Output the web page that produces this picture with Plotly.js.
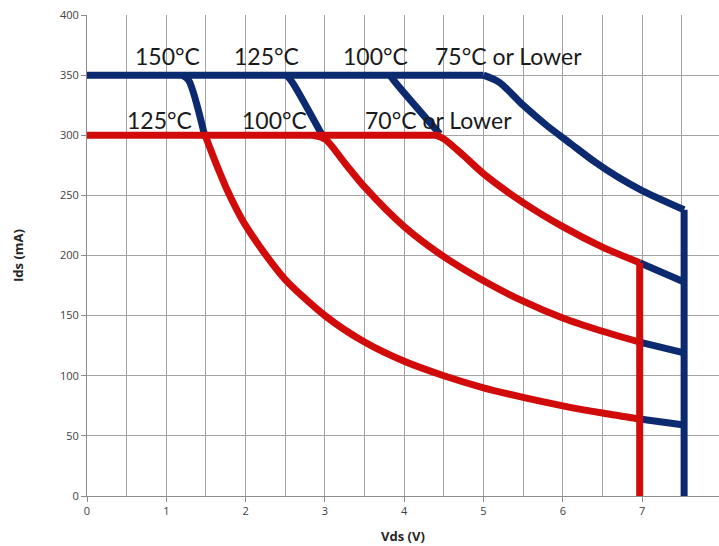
<!DOCTYPE html>
<html>
<head>
<meta charset="utf-8">
<script src="https://cdn.plot.ly/plotly-3.0.1.min.js"></script>
<style>html,body{margin:0;padding:0;background:#fff;}#chart{width:719px;height:546px;}</style>
</head>
<body>
<div id="chart"></div>
<script>
// Red limit at 300 mA (flat part) and derating curves
const redFlatV = [0, 4.46];
const redFlatI = [300, 300];
const red125V = [1.49, 1.6, 1.68, 1.75, 1.89, 2, 2.27, 2.5, 3, 3.5, 4, 4.5, 5, 5.5, 6, 6.5, 6.97];
const red125I = [300, 281, 268, 257, 238, 225, 199, 180, 150, 128, 112, 100, 90, 82, 75, 69, 64];
const red100V = [2.85, 3.0, 3.25, 3.5, 4, 4.5, 5, 5.5, 6, 6.5, 6.97];
const red100I = [300, 297, 277, 257, 224, 199, 179, 162, 148, 137, 128];
const red70V = [4.4, 4.5, 4.75, 5.0, 5.5, 6.0, 6.5, 6.97];
const red70I = [300, 297, 283, 268, 244, 224, 207, 194];
const redVertV = [6.97, 6.97];
const redVertI = [194, 0];
// Blue limit at 350 mA (flat part) and derating curves
const blueFlatV = [0, 5.0];
const blueFlatI = [350, 350];
const blue75V = [5.0, 5.2, 5.5, 5.8, 6.1, 6.4, 6.7, 7.0, 7.53];
const blue75I = [350, 344, 325, 308, 293, 278, 265, 254, 238];
const blueVertV = [7.53, 7.53];
const blueVertI = [238, 0];
const blue150V = [1.2, 1.28, 1.49];
const blue150I = [350, 346, 298];
const blue125V = [2.52, 2.6, 3.0];
const blue125I = [350, 343, 296];
const blue100V = [3.82, 3.9, 4.45];
const blue100I = [350, 343, 301];
const blueTailV = [6.97, 7.53];
const blueTail1I = [194, 178];
const blueTail2I = [128, 119];
const blueTail3I = [64, 59];
// Labels
const labelText = ["150°C", "125°C", "100°C", "75°C or Lower", "125°C", "100°C", "70°C or Lower"];
const labelV = [1.01, 2.26, 3.64, 5.31, 0.91, 2.36, 4.43];
const labelI = [366, 366, 366, 366, 313, 313, 313];
const xTicks = [0, 1, 2, 3, 4, 5, 6, 7];

const BLUE = '#0b2a6f';
const RED = '#d10a0a';
const W = 7;
function tr(x, y, c, smooth) {
  return {x: x, y: y, type: 'scatter', mode: 'lines',
    line: {color: c, width: W, shape: smooth ? 'spline' : 'linear', smoothing: 0.8},
    hoverinfo: 'skip', showlegend: false};
}
const data = [
  tr(blueFlatV, blueFlatI, BLUE),
  tr(blue75V, blue75I, BLUE, true),
  tr(blueVertV, blueVertI, BLUE),
  tr(blue150V, blue150I, BLUE, true),
  tr(blue125V, blue125I, BLUE, true),
  tr(blue100V, blue100I, BLUE, true),
  tr(blueTailV, blueTail1I, BLUE),
  tr(blueTailV, blueTail2I, BLUE),
  tr(blueTailV, blueTail3I, BLUE),
  tr(redFlatV, redFlatI, RED),
  tr(red125V, red125I, RED, true),
  tr(red100V, red100I, RED, true),
  tr(red70V, red70I, RED, true),
  tr(redVertV, redVertI, RED)
];
const annotations = labelText.map((t, i) => ({
  x: labelV[i], y: labelI[i], xref: 'x', yref: 'y', text: t, showarrow: false,
  font: {family: 'Lato, sans-serif', size: 23, color: '#1a1a1a'}, xanchor: 'center', yanchor: 'middle'
}));
const layout = {
  width: 719, height: 546,
  margin: {l: 87, r: 0, t: 15, b: 50},
  paper_bgcolor: '#ffffff', plot_bgcolor: '#ffffff',
  showlegend: false,
  xaxis: {
    range: [0, 7.97], tickvals: xTicks, ticktext: xTicks.map(String),
    showgrid: true, gridcolor: '#a3a3a3', gridwidth: 1,
    minor: {dtick: 0.5, tick0: 0, showgrid: true, gridcolor: '#a3a3a3', gridwidth: 1},
    showline: true, linecolor: '#8c8c8c', linewidth: 1,
    ticks: 'outside', ticklen: 5, tickcolor: '#8c8c8c',
    zeroline: false,
    tickfont: {family: 'Open Sans, sans-serif', size: 11, color: '#404040'},
    title: {text: '<b>Vds (V)</b>', font: {family: 'Open Sans, sans-serif', size: 13, color: '#262626'}, standoff: 14}
  },
  yaxis: {
    range: [0, 400], dtick: 50, tick0: 0,
    showgrid: true, gridcolor: '#a3a3a3', gridwidth: 1,
    showline: true, linecolor: '#8c8c8c', linewidth: 1,
    ticks: 'outside', ticklen: 5, tickcolor: '#8c8c8c',
    zeroline: false,
    tickfont: {family: 'Open Sans, sans-serif', size: 11, color: '#404040'},
    title: {text: '<b>Ids (mA)</b>', font: {family: 'Open Sans, sans-serif', size: 13, color: '#262626'}, standoff: 33}
  },
  annotations: annotations
};
Plotly.newPlot('chart', data, layout, {staticPlot: true, displayModeBar: false});
</script>
</body>
</html>
